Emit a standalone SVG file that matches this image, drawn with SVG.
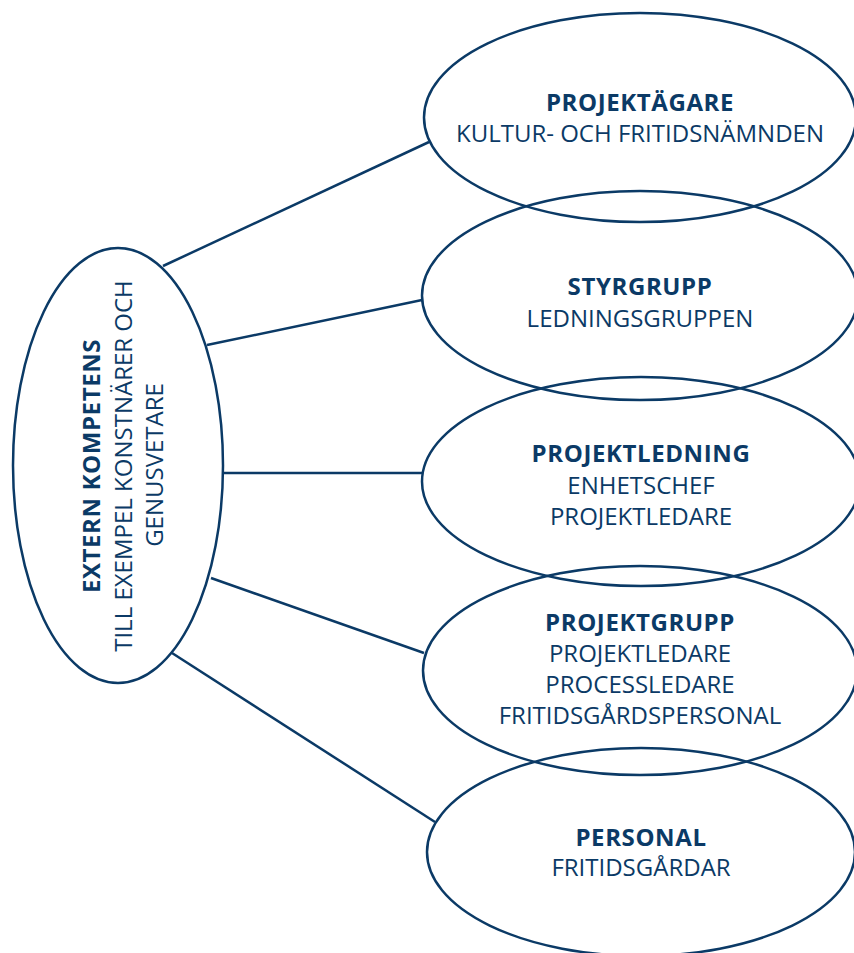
<svg xmlns="http://www.w3.org/2000/svg" width="854" height="953" viewBox="0 0 854 953">
<style>
.n{fill:none;stroke:#0b3a66;stroke-width:2.5}
.c line{stroke:#0b3a66;stroke-width:2.5}
text{font-family:"Open Sans","Noto Sans",sans-serif;font-size:24px;fill:#0b3a66;text-anchor:middle}
.b{font-weight:bold;letter-spacing:0.6px}
</style>
<rect width="854" height="953" fill="#ffffff"/>
<g class="c" id="connectors">
<line x1="163" y1="266" x2="429" y2="142"/>
<line x1="207" y1="345" x2="422" y2="300"/>
<line x1="223" y1="473" x2="422" y2="473"/>
<line x1="211" y1="578" x2="424" y2="653"/>
<line x1="172" y1="653" x2="435" y2="822"/>
</g>
<g id="extern">
<ellipse class="n" cx="118" cy="465.5" rx="105" ry="217.5"/>
<g transform="translate(100,466) rotate(-90)"><text class="b" x="0" y="0">EXTERN KOMPETENS</text></g>
<g transform="translate(132,466) rotate(-90)"><text x="0" y="0">TILL EXEMPEL KONSTNÄRER OCH</text></g>
<g transform="translate(163,465) rotate(-90)"><text x="0" y="0">GENUSVETARE</text></g>
</g>
<g id="projektagare">
<ellipse class="n" cx="640" cy="117.5" rx="216" ry="104.5"/>
<text class="b" x="640" y="111">PROJEKTÄGARE</text>
<text x="640" y="142">KULTUR- OCH FRITIDSNÄMNDEN</text>
</g>
<g id="styrgrupp">
<ellipse class="n" cx="640" cy="295.5" rx="218" ry="104.5"/>
<text class="b" x="640" y="295">STYRGRUPP</text>
<text x="640" y="327">LEDNINGSGRUPPEN</text>
</g>
<g id="projektledning">
<ellipse class="n" cx="641" cy="481.5" rx="219" ry="104.5"/>
<text class="b" x="641" y="462">PROJEKTLEDNING</text>
<text x="641" y="494">ENHETSCHEF</text>
<text x="641" y="525">PROJEKTLEDARE</text>
</g>
<g id="projektgrupp">
<ellipse class="n" cx="640" cy="670.5" rx="217" ry="104.5"/>
<text class="b" x="640" y="631">PROJEKTGRUPP</text>
<text x="640" y="662">PROJEKTLEDARE</text>
<text x="640" y="693">PROCESSLEDARE</text>
<text x="640" y="724">FRITIDSGÅRDSPERSONAL</text>
</g>
<g id="personal">
<ellipse class="n" cx="641" cy="852" rx="214" ry="104"/>
<text class="b" x="641" y="846">PERSONAL</text>
<text x="641" y="876">FRITIDSGÅRDAR</text>
</g>
</svg>
